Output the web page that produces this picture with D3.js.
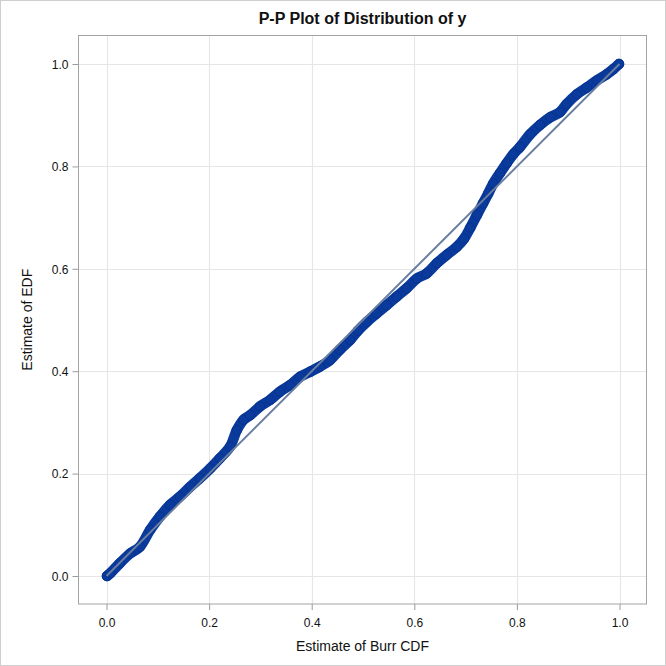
<!DOCTYPE html>
<html><head><meta charset="utf-8">
<script src="https://cdn.jsdelivr.net/npm/d3@7"></script>
<style>body{margin:0;background:#fff}svg{display:block}text{font-family:"Liberation Sans",Arial,sans-serif}</style>
</head><body>
<svg id="c" width="666" height="666"></svg>
<script>
const title = "P-P Plot of Distribution of y";
const xLabel = "Estimate of Burr CDF";
const yLabel = "Estimate of EDF";
const tickValues = [0, 0.2, 0.4, 0.6, 0.8, 1.0];
const refLine = [[0, 0], [1, 1]];
// Estimated Burr CDF (x) and EDF (y)
const cdfX = [0.001,0.007,0.026,0.046,0.065,0.085,0.104,0.124,0.143,0.163,0.182,0.202,0.221,0.241,0.254,0.267,0.280,0.299,0.319,0.338,0.358,0.377,0.397,0.416,0.436,0.455,0.475,0.490,0.507,0.527,0.546,0.566,0.585,0.605,0.624,0.644,0.663,0.683,0.697,0.709,0.722,0.734,0.744,0.754,0.767,0.780,0.793,0.806,0.826,0.845,0.865,0.884,0.897,0.917,0.936,0.956,0.975,0.988,0.999];
const edfY = [0.000,0.005,0.025,0.044,0.057,0.090,0.116,0.139,0.155,0.174,0.191,0.210,0.230,0.253,0.285,0.305,0.314,0.331,0.344,0.360,0.373,0.389,0.399,0.409,0.422,0.442,0.461,0.479,0.496,0.513,0.529,0.546,0.562,0.581,0.591,0.611,0.627,0.643,0.659,0.680,0.705,0.728,0.747,0.767,0.787,0.806,0.824,0.838,0.863,0.881,0.896,0.906,0.922,0.941,0.954,0.968,0.980,0.990,1.000];

const svg = d3.select("#c");
const L = 78.5, R = 646.5, T = 35.5, B = 604;
const x = d3.scaleLinear().domain([-0.0546, 1.0526]).range([L, R]);
const y = d3.scaleLinear().domain([-0.0547, 1.0557]).range([B, T]);
const pts = cdfX.map((v, i) => [v, edfY[i]]);

svg.append("rect").attr("x",0.5).attr("y",0.5).attr("width",665).attr("height",665)
  .attr("fill","#fff").attr("stroke","#cfcfcf");

// grid
const g = svg.append("g");
g.selectAll("line.gx").data(tickValues).join("line")
  .attr("x1", d => Math.round(x(d))+0.5).attr("x2", d => Math.round(x(d))+0.5)
  .attr("y1", T).attr("y2", B).attr("stroke", "#e6e6e6").attr("stroke-width", 1.2);
g.selectAll("line.gy").data(tickValues).join("line")
  .attr("y1", d => Math.round(y(d))+0.5).attr("y2", d => Math.round(y(d))+0.5)
  .attr("x1", L).attr("x2", R).attr("stroke", "#e6e6e6").attr("stroke-width", 1.2);

// axes
const fmt = d3.format(".1f");
const xa = svg.append("g").attr("transform", `translate(0,${B})`)
  .call(d3.axisBottom(x).tickValues(tickValues).tickFormat(fmt).tickSize(6).tickSizeOuter(0));
const ya = svg.append("g").attr("transform", `translate(${L},0)`)
  .call(d3.axisLeft(y).tickValues(tickValues).tickFormat(fmt).tickSize(6).tickSizeOuter(0));
[xa, ya].forEach(a => {
  a.select(".domain").remove();
  a.selectAll(".tick line").attr("stroke", "#9a9a9a");
  a.selectAll(".tick text").attr("fill", "#111").style("font-size", "12px")
    .style("font-family", '"Liberation Sans", Arial, sans-serif');
});
xa.selectAll(".tick text").attr("dy", null).attr("y", 23);
ya.selectAll(".tick text").attr("x", -10).attr("dy", "0.35em");

// frame
svg.append("rect").attr("x", L).attr("y", T).attr("width", R-L).attr("height", B-T)
  .attr("fill", "none").attr("stroke", "#a3a3a3");

// data band + markers
const line = d3.line().x(d => x(d[0])).y(d => y(d[1])).curve(d3.curveCatmullRom);
svg.append("path").datum(pts).attr("d", line).attr("fill", "none")
  .attr("stroke", "#0a3a9c").attr("stroke-width", 10.5).attr("stroke-linecap", "round").attr("stroke-linejoin","round");
svg.append("g").selectAll("circle").data(pts).join("circle")
  .attr("cx", d => x(d[0])).attr("cy", d => y(d[1])).attr("r", 4.8)
  .attr("fill", "#0a3a9c").attr("stroke", "#06348f").attr("stroke-width", 1);

// reference line
svg.append("line").attr("x1", x(refLine[0][0])).attr("y1", y(refLine[0][1]))
  .attr("x2", x(refLine[1][0])).attr("y2", y(refLine[1][1]))
  .attr("stroke", "#6a7f9f").attr("stroke-width", 2);

// labels
svg.append("text").attr("x", (L+R)/2).attr("y", 24).attr("text-anchor", "middle")
  .style("font-size", "16px").style("font-weight", "bold").attr("fill", "#111").text(title);
svg.append("text").attr("x", (L+R)/2).attr("y", 651).attr("text-anchor", "middle")
  .style("font-size", "14px").attr("fill", "#111").text(xLabel);
svg.append("text").attr("transform", `translate(32,${(T+B)/2}) rotate(-90)`).attr("text-anchor", "middle")
  .style("font-size", "14px").attr("fill", "#111").text(yLabel);
</script>
</body></html>
